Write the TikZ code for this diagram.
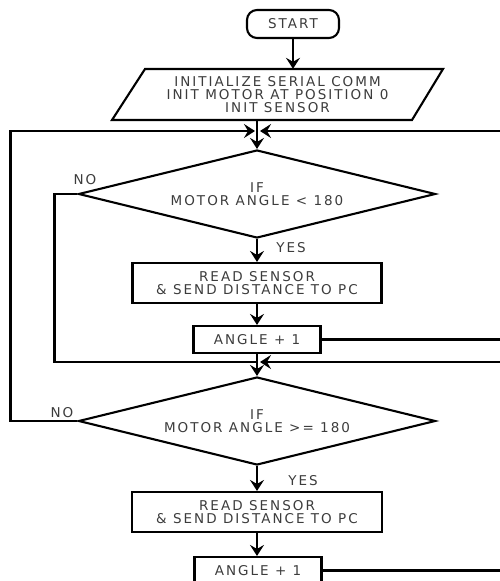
\documentclass[tikz,border=0pt]{standalone}
\usepackage{fontspec}
\newfontfamily\flowfont[LetterSpace=15]{DejaVu Sans}
\usetikzlibrary{arrows.meta,shapes.geometric}
\definecolor{txtgray}{HTML}{3C3C3C}
\tikzset{
	line/.style={line width=2.1pt},
	arr/.style={line width=2.1pt,-{Stealth[length=11pt,width=14pt,inset=4pt]}},
	txt/.style={text=txtgray,align=center,inner sep=0pt,font=\flowfont\fontsize{13.5}{13}\selectfont},
	term/.style={txt,draw=black,line width=2.1pt,rounded corners=10pt,minimum width=92pt,minimum height=28pt},
	io/.style={txt,minimum height=51pt},
	block/.style={txt,draw=black,line width=2.1pt,minimum height=#1},
	decision/.style={txt,draw=black,line width=2.1pt,diamond,aspect=4,minimum width=357pt,minimum height=88pt}
}

\begin{document}
\begin{tikzpicture}[x=1pt,y=-1pt]
	\clip (0,0) rectangle (500,581);

	\node[term] (start) at (293,24) {START};

	\node[io] (init) at (277.5,94.5) {INITIALIZE SERIAL COMM\\INIT MOTOR AT POSITION 0\\INIT SENSOR};
	\draw[line] (112,120) -- (145,69) -- (443,69) -- (412,120) -- cycle;
	\draw[arr] (start.south) -- (start.south |- init.north);

	\coordinate (join1) at (257,131);
	\coordinate (join2) at (257,362);

	% first loop
	\node[decision] (cond1) at (257,194) {IF\\MOTOR ANGLE < 180};
	\node[block=40pt,minimum width=249pt] (read1) at (257,283) {READ SENSOR\\\& SEND DISTANCE TO PC};
	\node[block=27pt,minimum width=127pt] (angle1) at (257,339.5) {ANGLE + 1};
	\node[txt] (no1) at (85,180) {NO};
	\node[txt] (yes1) at (291,248) {YES};

	% second loop
	\node[decision] (cond2) at (257,421) {IF\\MOTOR ANGLE >= 180};
	\node[block=40pt,minimum width=250pt] (read2) at (257,512) {READ SENSOR\\\& SEND DISTANCE TO PC};
	\node[block=27pt,minimum width=127pt] (angle2) at (258,570.5) {ANGLE + 1};
	\node[txt] (no2) at (62,413) {NO};
	\node[txt] (yes2) at (303,481) {YES};

	\draw[line] (join1 |- init.south) -- (join1);
	\draw[arr] (join1) -- (cond1.north);
	\draw[arr] (cond1.south) -- (read1.north);
	\draw[arr] (read1.south) -- (angle1.north);
	\draw[line] (angle1.south) -- (join2);
	\draw[arr] (join2) -- (cond2.north);
	\draw[arr] (cond2.south) -- (read2.north);
	\draw[arr] (read2.south) -- (read2.south |- angle2.north);

	\draw[line] (cond1.west) -- ++(-23,0) |- (join2);
	\draw[arr] (cond2.west) -- ++(-67,0) |- ([xshift=-2pt]join1);

	% off to the right
	\coordinate (r1) at (510,131);
	\coordinate (r2) at (510,339.5);
	\coordinate (r3) at (510,362);
	\coordinate (r4) at (510,570.5);
	\draw[arr] (r1) -- ([xshift=3pt]join1);
	\draw[line] (angle1.east) -- (r2);
	\draw[arr] (r3) -- ([xshift=3pt]join2);
	\draw[line] (angle2.east) -- (r4);
\end{tikzpicture}
\end{document}
